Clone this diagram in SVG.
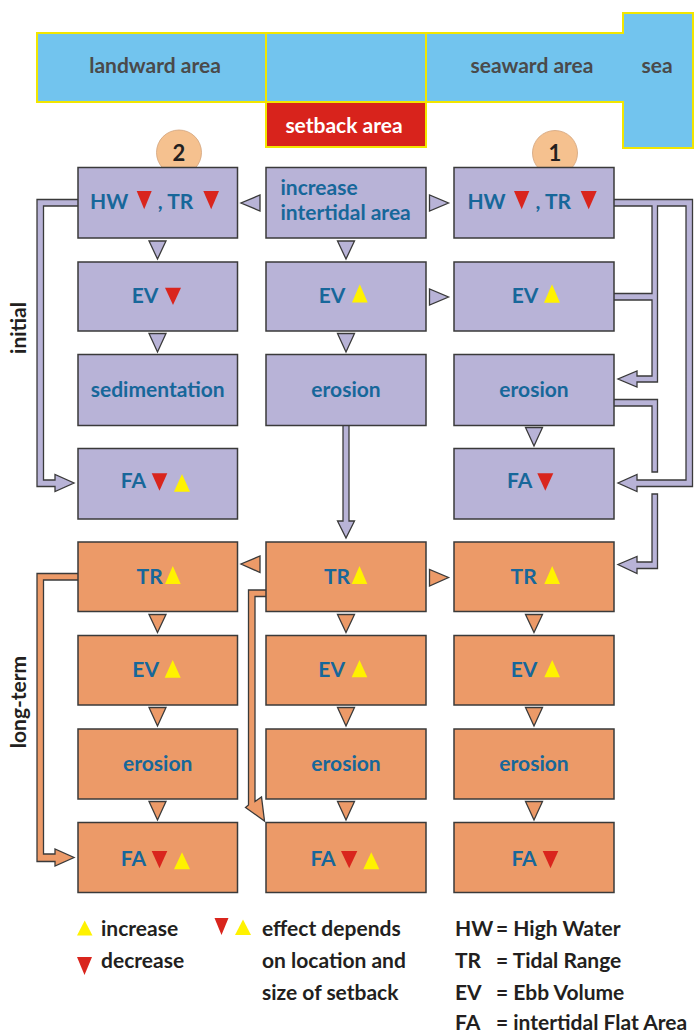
<svg xmlns="http://www.w3.org/2000/svg" width="696" height="1032" viewBox="0 0 696 1032">
<style>
.bl{fill:#b8b3d7;stroke:#3a3a3a;stroke-width:1.5}
.bo{fill:#ec9a68;stroke:#3a3a3a;stroke-width:1.5}
.cl{fill:#b8b3d7;stroke:#3a3a3a;stroke-width:1.3;stroke-linejoin:miter}
.co{fill:#ec9a68;stroke:#3a3a3a;stroke-width:1.3;stroke-linejoin:miter}
.t{font-family:Lato,"Open Sans","Liberation Sans",sans-serif;font-weight:700;font-size:21px;fill:#17679a}
.m{text-anchor:middle}
.e{text-anchor:end}
.up{fill:#fff200}
.dn{fill:#d9251d}
.k{font-family:Lato,"Open Sans","Liberation Sans",sans-serif;font-weight:700;font-size:21px;fill:#231f20}
.g{font-family:Lato,"Open Sans","Liberation Sans",sans-serif;font-weight:700;font-size:21px;fill:#4a4a4a;text-anchor:middle}
.circ{fill:#f5c18f;stroke:#d2a27a;stroke-width:0.8}
</style>

<g id="areas">
<path d="M37,33 H623 V13 H693 V148 H623 V102 H37 Z" fill="#72c4ee" stroke="#f2e600" stroke-width="2"/>
<line x1="266" y1="33" x2="266" y2="102" stroke="#f2e600" stroke-width="2"/>
<line x1="426" y1="33" x2="426" y2="102" stroke="#f2e600" stroke-width="2"/>
<rect x="266" y="102" width="160" height="45" fill="#d8231c" stroke="#f2e600" stroke-width="2"/>
<text class="g" x="155" y="73">landward area</text>
<text class="g" x="532" y="73">seaward area</text>
<text class="g" x="657" y="73">sea</text>
<text class="g" x="344" y="133" style="fill:#ffffff">setback area</text>
</g>

<g id="phase-labels">
<text class="k m" transform="translate(26,328) rotate(-90)">initial</text>
<text class="k m" transform="translate(26,702) rotate(-90)">long-term</text>
</g>

<g id="markers">
<circle class="circ" cx="179" cy="152.5" r="22.5"/>
<text class="k m" x="179" y="161" style="font-size:22px">2</text>
<circle class="circ" cx="555" cy="153" r="22.5"/>
<text class="k m" x="555" y="161" style="font-size:22px">1</text>
</g>

<g id="connectors">
<polygon class="cl" points="82,199.5 37,199.5 37,486.5 55,486.5 55,491.5 74,483 55,474.5 55,480 43.5,480 43.5,206 82,206"/>
<polygon class="cl" points="610,199.5 692.5,199.5 692.5,486.5 637,486.5 637,491.5 618,483 637,474.5 637,480 686,480 686,206 657.5,206 657.5,382 637,382 637,387 618,379 637,371 637,376 652,376 652,300 610,300 610,293.5 652,293.5 652,206 610,206"/>
<polygon class="cl" points="610,399.5 657.5,399.5 657.5,472 652,472 652,406 610,406"/>
<polygon class="cl" points="652,494 657.5,494 657.5,568.5 637,568.5 637,573.5 618,564.5 637,556.5 637,562 652,562"/>
<polygon class="cl" points="343,420 343,521 337.5,521 346,538 354.5,521 349,521 349,420"/>
<polygon class="cl" points="260,195 260,211 241,203"/>
<polygon class="cl" points="429.5,195 429.5,211 448.5,203"/>
<polygon class="cl" points="429.5,289 429.5,305 448.5,297"/>
<polygon class="cl" points="149,241 166,241 157.5,259"/>
<polygon class="cl" points="149,333.5 166,333.5 157.5,352"/>
<polygon class="cl" points="337.5,241 354.5,241 346,259"/>
<polygon class="cl" points="337.5,333.5 354.5,333.5 346,352"/>
<polygon class="cl" points="525.5,427.5 542.5,427.5 534,446"/>
<polygon class="co" points="82,573.5 37,573.5 37,861.5 55,861.5 55,866 74,857.5 55,849 55,854 43.5,854 43.5,580 82,580"/>
<polygon class="co" points="270,590 248.5,590 248.5,805 245.5,807.5 264.5,821 261.5,797 255,801.5 255,596.5 270,596.5"/>
<polygon class="co" points="260,556 260,572.5 241,564"/>
<polygon class="co" points="429.5,569.5 429.5,586 448.5,577.5"/>
<polygon class="co" points="149,614.5 166,614.5 157.5,632.5"/>
<polygon class="co" points="149,707.5 166,707.5 157.5,726"/>
<polygon class="co" points="149,801.5 166,801.5 157.5,820"/>
<polygon class="co" points="337.5,614.5 354.5,614.5 346,632.5"/>
<polygon class="co" points="337.5,707.5 354.5,707.5 346,726"/>
<polygon class="co" points="337.5,801.5 354.5,801.5 346,820"/>
<polygon class="co" points="525.5,614.5 542.5,614.5 534,632.5"/>
<polygon class="co" points="525.5,707.5 542.5,707.5 534,726"/>
<polygon class="co" points="525.5,801.5 542.5,801.5 534,820"/>
</g>

<g id="L1">
<rect class="bl" x="78" y="167.5" width="159.5" height="70.5"/>
<text class="t e" x="128.3" y="209.3">HW</text>
<polygon class="dn" points="136.7,191 151.7,191 144.2,209.3"/>
<text class="t e" x="193.3" y="209.3">, TR</text>
<polygon class="dn" points="203.3,191 219,191 211.2,209.3"/>
</g>
<g id="C1">
<rect class="bl" x="266" y="167.5" width="160" height="70.5"/>
<text class="t" x="280.5" y="194.5">increase</text>
<text class="t" x="280.5" y="220">intertidal area</text>
</g>
<g id="R1">
<rect class="bl" x="454" y="167.5" width="160" height="70.5"/>
<text class="t e" x="505.7" y="209.3">HW</text>
<polygon class="dn" points="514,191 529.3,191 521.7,209.3"/>
<text class="t e" x="571" y="209.3">, TR</text>
<polygon class="dn" points="580.7,191 596.7,191 588.7,209.3"/>
</g>

<g id="L2">
<rect class="bl" x="78" y="262" width="159.5" height="69"/>
<text class="t e" x="158.3" y="303.3">EV</text>
<polygon class="dn" points="165,287.7 181,287.7 173,305"/>
</g>
<g id="C2">
<rect class="bl" x="266" y="262" width="160" height="69"/>
<text class="t e" x="345.3" y="303.3">EV</text>
<polygon class="up" points="352,302.5 367.7,302.5 359.8,284.3"/>
</g>
<g id="R2">
<rect class="bl" x="454" y="262" width="160" height="69"/>
<text class="t e" x="538.3" y="303.3">EV</text>
<polygon class="up" points="544,302.7 560,302.7 552,284.3"/>
</g>

<g id="L3">
<rect class="bl" x="78" y="354.5" width="159.5" height="71"/>
<text class="t m" x="157.7" y="396.7">sedimentation</text>
</g>
<g id="C3">
<rect class="bl" x="266" y="354.5" width="160" height="71"/>
<text class="t m" x="346" y="396.7">erosion</text>
</g>
<g id="R3">
<rect class="bl" x="454" y="354.5" width="160" height="71"/>
<text class="t m" x="534" y="396.7">erosion</text>
</g>

<g id="L4">
<rect class="bl" x="78" y="448.5" width="159.5" height="70.5"/>
<text class="t e" x="146" y="488.3">FA</text>
<polygon class="dn" points="151.7,473.3 167.3,473.3 159.5,490.7"/>
<polygon class="up" points="174,491.7 190,491.7 182,474"/>
</g>
<g id="R4">
<rect class="bl" x="454" y="448.5" width="160" height="70.5"/>
<text class="t e" x="532.3" y="488.3">FA</text>
<polygon class="dn" points="537.3,473.3 553.3,473.3 545.3,490.7"/>
</g>

<g id="L5">
<rect class="bo" x="78" y="542" width="159.5" height="69.5"/>
<text class="t e" x="162.7" y="583.5">TR</text>
<polygon class="up" points="165,584 180.7,584 172.8,566"/>
</g>
<g id="C5">
<rect class="bo" x="266" y="542" width="160" height="69.5"/>
<text class="t e" x="350" y="583.5">TR</text>
<polygon class="up" points="351.7,584 367.3,584 359.5,566"/>
</g>
<g id="R5">
<rect class="bo" x="454" y="542" width="160" height="69.5"/>
<text class="t e" x="536.7" y="583.5">TR</text>
<polygon class="up" points="544.3,584 560,584 552.2,566"/>
</g>

<g id="L6">
<rect class="bo" x="78" y="635.5" width="159.5" height="69.5"/>
<text class="t e" x="159" y="676.7">EV</text>
<polygon class="up" points="164.7,677.7 180.7,677.7 172.7,660"/>
</g>
<g id="C6">
<rect class="bo" x="266" y="635.5" width="160" height="69.5"/>
<text class="t e" x="345" y="676.7">EV</text>
<polygon class="up" points="351.7,677.3 367.3,677.3 359.5,660"/>
</g>
<g id="R6">
<rect class="bo" x="454" y="635.5" width="160" height="69.5"/>
<text class="t e" x="537.3" y="676.7">EV</text>
<polygon class="up" points="544.3,677.3 560,677.3 552.2,660"/>
</g>

<g id="L7">
<rect class="bo" x="78" y="729" width="159.5" height="70"/>
<text class="t m" x="157.7" y="770.7">erosion</text>
</g>
<g id="C7">
<rect class="bo" x="266" y="729" width="160" height="70"/>
<text class="t m" x="346" y="770.7">erosion</text>
</g>
<g id="R7">
<rect class="bo" x="454" y="729" width="160" height="70"/>
<text class="t m" x="534" y="770.7">erosion</text>
</g>

<g id="L8">
<rect class="bo" x="78" y="822.5" width="159.5" height="70"/>
<text class="t e" x="146" y="865.7">FA</text>
<polygon class="dn" points="151.7,851 167.3,851 159.5,868.3"/>
<polygon class="up" points="174,869.3 190,869.3 182,852.3"/>
</g>
<g id="C8">
<rect class="bo" x="266" y="822.5" width="160" height="70"/>
<text class="t e" x="335.7" y="865.7">FA</text>
<polygon class="dn" points="341,851 357.3,851 349.2,868.3"/>
<polygon class="up" points="363.3,869.3 379.3,869.3 371.3,852.3"/>
</g>
<g id="R8">
<rect class="bo" x="454" y="822.5" width="160" height="70"/>
<text class="t e" x="536.7" y="865.7">FA</text>
<polygon class="dn" points="542.7,851 558.3,851 550.5,868.3"/>
</g>

<g id="legend">
<polygon class="up" points="77,935.5 92.5,935.5 84.7,920.5"/>
<text class="k" x="101" y="936">increase</text>
<polygon class="dn" points="77,957 92,957 84.5,975"/>
<text class="k" x="101" y="968">decrease</text>
<polygon class="dn" points="214.5,918 228.5,918 221.5,935"/>
<polygon class="up" points="235,935 251,935 243,919.5"/>
<text class="k" x="262" y="936">effect depends</text>
<text class="k" x="262" y="968">on location and</text>
<text class="k" x="262" y="1000">size of setback</text>
<text class="k" y="936"><tspan x="455">HW</tspan><tspan x="496">= High Water</tspan></text>
<text class="k" y="968"><tspan x="455">TR</tspan><tspan x="496">= Tidal Range</tspan></text>
<text class="k" y="1000"><tspan x="455">EV</tspan><tspan x="496">= Ebb Volume</tspan></text>
<text class="k" y="1030"><tspan x="455">FA</tspan><tspan x="496">= intertidal Flat Area</tspan></text>
</g>
</svg>
